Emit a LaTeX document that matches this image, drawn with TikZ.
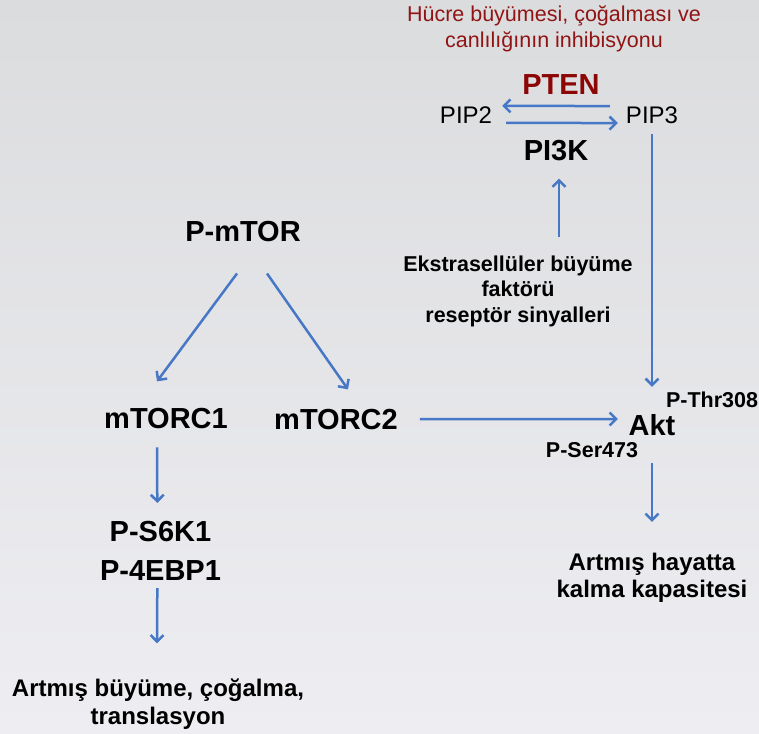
\documentclass[tikz,border=0pt]{standalone}
\usepackage{fontspec}
\setmainfont{Liberation Sans}
\usepackage{xcolor}
\usetikzlibrary{arrows.meta}
\definecolor{arrowblue}{RGB}{70,120,198}
\definecolor{ptenred}{RGB}{140,6,6}
\definecolor{notered}{RGB}{145,20,20}
\definecolor{bgtop}{RGB}{219,220,222}
\definecolor{bgmid}{RGB}{243,243,245}
\definecolor{bgbot}{RGB}{238,238,242}
\tikzset{
  big/.style={
    inner sep=0pt,
    anchor=base,
    font=\fontsize{29}{35}\selectfont\bfseries
  },
  mid/.style={
    inner sep=0pt,
    align=center,
    font=\fontsize{24}{28}\selectfont\bfseries
  },
  small/.style={
    inner sep=0pt,
    anchor=base,
    font=\fontsize{21.5}{25}\selectfont\bfseries
  },
  lipid/.style={
    inner sep=0pt,
    anchor=base,
    font=\fontsize{24}{28}\selectfont
  },
  note/.style={
    inner sep=0pt,
    anchor=north,
    align=center,
    text=notered,
    font=\fontsize{21.5}{26}\selectfont
  },
  flow/.style={-{Straight Barb[length=6.5pt,width=13pt]}, line width=2.5pt, draw=arrowblue}
}
\begin{document}
\begin{tikzpicture}[x=1pt,y=-1pt]
  \shade[top color=bgtop, middle color=bgmid, bottom color=bgbot] (0,0) rectangle (759,733);
  \useasboundingbox (0,0) rectangle (759,733);

  % PI3K / PTEN cycle
  \node[note] (inhib) at (554,5.6) {Hücre büyümesi, çoğalması ve\\canlılığının inhibisyonu};
  \node[big, text=ptenred] (pten) at (561,95) {PTEN};
  \node[lipid] (pip2) at (466,124) {PIP2};
  \node[lipid] (pip3) at (652,124) {PIP3};
  \node[big] (pi3k) at (556,160) {PI3K};
  \node[small, anchor=north, align=center, font=\fontsize{21.5}{25.5}\selectfont\bfseries] (ekstra) at (518,255.6)
    {Ekstrasellüler büyüme\\faktörü\\reseptör sinyalleri};

  % Akt
  \node[big] (akt) at (652,435) {Akt};
  \node[small] (thr) at (712,407) {P-Thr308};
  \node[small] (ser) at (592,457) {P-Ser473};
  \node[mid, anchor=north, font=\fontsize{24}{27.5}\selectfont\bfseries] (survival) at (652,552.8) {Artmış hayatta\\kalma kapasitesi};

  % mTOR branch
  \node[big] (pmtor) at (243,241) {P-mTOR};
  \node[big] (mtorc1) at (166,428) {mTORC1};
  \node[big] (mtorc2) at (336,429) {mTORC2};
  \node[big, anchor=north, align=center, font=\fontsize{29}{39}\selectfont\bfseries] (ps6k) at (160.5,521.2) {P-S6K1\\P-4EBP1};
  \node[mid, anchor=north] (growth) at (158,678.8) {Artmış büyüme, çoğalma,\\translasyon};

  \draw[flow] ([shift={(-16,-9.7)}]pip3.west) -- ([shift={(10,-9.7)}]pip2.east);
  \draw[flow] ([shift={(14,7.3)}]pip2.east) -- ([shift={(-8,7.3)}]pip3.west);
  \draw[flow] ([shift={(41,-18.6)}]ekstra.north) -- ([shift={(3,18)}]pi3k.south);
  \draw[flow] ([shift={(0,10)}]pip3.south) -- ([shift={(0,-27)}]akt.north);
  \draw[flow] ([shift={(22,0)}]mtorc2.east) -- ([shift={(-10.6,-5.6)}]akt.west);
  \draw[flow] ([shift={(0,28)}]akt.south) -- ([shift={(0,-31)}]survival.north);

  \draw[flow] ([shift={(-6,32)}]pmtor.south) -- ([shift={(-9,-26.2)}]mtorc1.north);
  \draw[flow] ([shift={(24,32)}]pmtor.south) -- ([shift={(12,-19.2)}]mtorc2.north);
  \draw[flow] ([shift={(-9,19)}]mtorc1.south) -- ([shift={(-3.2,-18.2)}]ps6k.north);
  \draw[flow] ([shift={(-3.2,7.3)}]ps6k.south) -- ([shift={(-1,-35.5)}]growth.north);
\end{tikzpicture}
\end{document}
